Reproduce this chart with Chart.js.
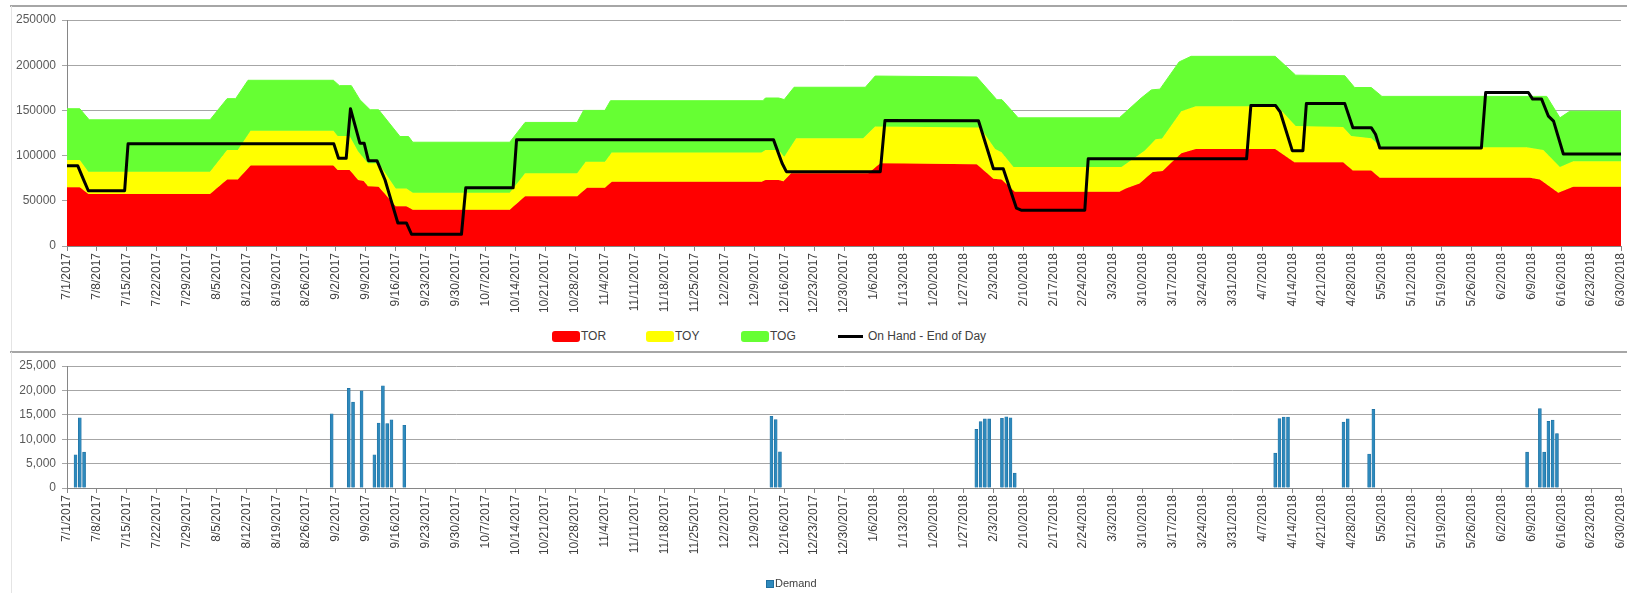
<!DOCTYPE html>
<html><head><meta charset="utf-8">
<script src="https://cdn.jsdelivr.net/npm/chart.js@4.4.1/dist/chart.umd.min.js"></script>
<style>
html,body{margin:0;padding:0;background:#fff;overflow:hidden;width:1627px;height:593px;font-family:"Liberation Sans",Arial,sans-serif;}
#wrap{position:relative;width:1627px;height:593px;overflow:hidden;}
.hline{position:absolute;left:10px;width:1617px;height:0;border-top:2px solid #a6a6a6;}
.vline{position:absolute;left:11px;width:0;border-left:1px solid #e4e4e4;}
#c1{position:absolute;left:0;top:0;}
#c2{position:absolute;left:0;top:345px;}
.lg{position:absolute;font-size:12px;color:#404040;line-height:14px;white-space:nowrap;}
.box{position:absolute;width:28px;height:11px;border-radius:3px;}
</style></head>
<body><div id="wrap">
<div class="hline" style="top:5px"></div>
<div class="vline" style="top:6px;height:346px"></div>
<div class="hline" style="top:351px"></div>
<div class="vline" style="top:352px;height:241px"></div>
<canvas id="c1" width="1627" height="320" style="width:1627px;height:320px"></canvas>
<canvas id="c2" width="1627" height="248" style="width:1627px;height:248px"></canvas>
<div id="legend1"></div>
<div id="legend2"></div>
</div>
<script>
// ---------- data ----------
const tickLabels = ["7/1/2017","7/8/2017","7/15/2017","7/22/2017","7/29/2017","8/5/2017","8/12/2017","8/19/2017","8/26/2017","9/2/2017","9/9/2017","9/16/2017","9/23/2017","9/30/2017","10/7/2017","10/14/2017","10/21/2017","10/28/2017","11/4/2017","11/11/2017","11/18/2017","11/25/2017","12/2/2017","12/9/2017","12/16/2017","12/23/2017","12/30/2017","1/6/2018","1/13/2018","1/20/2018","1/27/2018","2/3/2018","2/10/2018","2/17/2018","2/24/2018","3/3/2018","3/10/2018","3/17/2018","3/24/2018","3/31/2018","4/7/2018","4/14/2018","4/21/2018","4/28/2018","5/5/2018","5/12/2018","5/19/2018","5/26/2018","6/2/2018","6/9/2018","6/16/2018","6/23/2018","6/30/2018"];

// [day since 7/1/2017, value] breakpoints: top edge of each zone
const TOR = [[0,65000],[3,65000],[5,57500],[33.5,57500],[37.5,73500],[40,73500],[43,89000],[62.4,89000],[63.4,84000],[66.2,84000],[68.2,73000],[69.5,72000],[70.5,66000],[73,65500],[77,44000],[79.5,44000],[81,40000],[103.7,40000],[107.3,55000],[119.5,55000],[121.8,64400],[126,64400],[127.6,71100],[162.7,71100],[163.6,73000],[166.7,73000],[167.8,71500],[169.6,80400],[187.7,80400],[190.5,91500],[213.1,90500],[217,74500],[218.9,73500],[222,60000],[246.5,60000],[248,63600],[251.2,69000],[254.3,81800],[256.6,83000],[261,102500],[264.4,107300],[283,107300],[287.5,92700],[298.9,92700],[301.2,83600],[305.5,83600],[307.5,75600],[342.7,75600],[345,73500],[349.3,58900],[352.8,65500],[364,65500]];
const TOY = [[0,95200],[3,95200],[5,82200],[33.5,82200],[37.5,106300],[40,106300],[43,127400],[62.4,127400],[63.4,121800],[66.2,121800],[68.2,104400],[70.5,91500],[73,91500],[77,63700],[79.5,63700],[81,58900],[103.7,58900],[107.3,80400],[119.5,80400],[121.5,93300],[126,93300],[127.6,103300],[162.7,103300],[163.6,106300],[166.7,106300],[168,98700],[170.8,119300],[186.5,119300],[189.3,132200],[213.9,131000],[217.4,107300],[218.9,103600],[221.7,87300],[247,87300],[252.4,105500],[255,118200],[256.5,119000],[261,149100],[264.4,154500],[283.5,154500],[287.8,132700],[298.9,131600],[300.8,121800],[305.5,119300],[307.9,109100],[341.9,109100],[345.8,106200],[349.7,87300],[352.8,93800],[364,93800]];
const TOG = [[0,151850],[3,151850],[5.2,139600],[33.5,139600],[37.5,163000],[39.5,163000],[42.4,183300],[62.4,183300],[63.8,177400],[66.6,177400],[68.6,161900],[71,150700],[73,150700],[78,121100],[80,121100],[81,114800],[103.7,114800],[107.3,136700],[119.5,136700],[121,150000],[126,150000],[127.3,160700],[163,160700],[163.6,163700],[166.7,163700],[168,162000],[170.3,175600],[187,175600],[189.3,188000],[213.1,187000],[217.8,161800],[219,161800],[222.8,141800],[246.5,141800],[251.6,163600],[254,172700],[256,173500],[260.5,203600],[263.3,209800],[283,209800],[287.8,189000],[299.3,188400],[301.6,175300],[305.5,175300],[308,165500],[346.6,165500],[349.7,141800],[352,149100],[364,149100]];
const ONHAND = [[0,88900],[2.5,88900],[4,72000],[5,61100],[13.5,61100],[14.3,113000],[62.5,113000],[63.6,97000],[65.4,97000],[66.4,151850],[68.6,113700],[69.6,113700],[70.6,94400],[72.6,94400],[74.5,73000],[75.9,50700],[77.5,25500],[79.5,25500],[80.7,13000],[92.4,13000],[93.4,64400],[104.5,64400],[105.3,117400],[165.5,117400],[167.5,91500],[168.5,82200],[190.5,82200],[191.6,138900],[213.5,138500],[217,85500],[219.3,85500],[222.4,41800],[223.5,39600],[238.4,39600],[239.2,96400],[276.3,96400],[277.3,155300],[283.1,155300],[284.2,148000],[287,105500],[289.5,105500],[290.3,157500],[299.3,157500],[301.2,130900],[305.5,130900],[306.5,123600],[307.5,108400],[331.3,108400],[332.3,169800],[342.3,169800],[343.3,162500],[345.4,162500],[347,143600],[348.2,138200],[350.5,101800],[364,101800]];

const demandDays = [2,3,4,62,66,67,69,72,73,74,75,76,79,165,166,167,213,214,215,216,219,220,221,222,283,284,285,286,299,300,305,306,342,345,346,347,348,349];
const demandVals = [6800,14400,7350,15200,20400,17600,19900,6800,13300,20950,13200,13950,12850,14700,14000,7400,12000,13600,14150,14150,14300,14600,14400,3050,7150,14200,14550,14550,13500,14150,6950,16100,7350,16250,7350,13650,13900,11150];

const seriesNames = ["TOR","TOY","TOG","On Hand - End of Day"];
const seriesColors = ["#FF0000","#FFFF00","#66FF33","#000000"];

// ---------- helpers ----------
const pts = arr => arr.map(p => ({x: p[0], y: p[1]}));
const FONT = {family: '"Liberation Sans", Arial, sans-serif', size: 12};

function xScale(height) {
  return {
    type: 'linear', min: 0, max: 364, offset: false,
    ticks: {stepSize: 7, autoSkip: false, maxRotation: 90, minRotation: 90, padding: 2,
      color: '#404040', font: FONT,
      callback: v => tickLabels[Math.round(v / 7)] ?? ''},
    grid: {drawOnChartArea: false, drawTicks: true, tickLength: 5, color: '#868686', offset: false},
    border: {color: '#868686', width: 1},
    afterFit: s => { s.height = height; s.paddingLeft = 0; s.paddingRight = 0; }
  };
}
function yScale(max, step, fmt) {
  return {
    min: 0, max: max,
    ticks: {stepSize: step, padding: 6, color: '#595959', font: FONT, callback: fmt},
    grid: {color: '#a6a6a6', lineWidth: 1, drawTicks: true, tickLength: 5},
    border: {color: '#868686', width: 1},
    afterFit: s => { s.width = 67; }
  };
}

Chart.defaults.animation = false;

// ---------- top chart ----------
new Chart(document.getElementById('c1'), {
  type: 'line',
  data: {datasets: [
    {label: seriesNames[0], data: pts(TOR), fill: 'origin', backgroundColor: seriesColors[0], borderColor: seriesColors[0], borderWidth: 1, pointRadius: 0, order: 3},
    {label: seriesNames[1], data: pts(TOY), fill: '-1', backgroundColor: seriesColors[1], borderColor: seriesColors[1], borderWidth: 1, pointRadius: 0, order: 2},
    {label: seriesNames[2], data: pts(TOG), fill: '-1', backgroundColor: seriesColors[2], borderColor: seriesColors[2], borderWidth: 1, pointRadius: 0, order: 1},
    {label: seriesNames[3], data: pts(ONHAND), fill: false, borderColor: seriesColors[3], borderWidth: 3, pointRadius: 0, order: 0, borderJoinStyle: 'round'}
  ]},
  options: {
    responsive: false, maintainAspectRatio: false,
    layout: {padding: {top: 20, right: 6, left: 0, bottom: 0}},
    plugins: {legend: {display: false}, tooltip: {enabled: false}},
    scales: {x: xScale(74), y: yScale(250000, 50000, v => String(v))}
  }
});

// ---------- bottom chart ----------
new Chart(document.getElementById('c2'), {
  type: 'bar',
  data: {datasets: [{
    label: 'Demand',
    data: demandDays.map((d, i) => ({x: d, y: demandVals[i]})),
    backgroundColor: '#2E89BC', borderColor: '#1F6F9F', borderWidth: 0.6,
    barThickness: 3
  }]},
  options: {
    responsive: false, maintainAspectRatio: false,
    layout: {padding: {top: 21, right: 6, left: 0, bottom: 0}},
    plugins: {legend: {display: false}, tooltip: {enabled: false}},
    scales: {x: xScale(105), y: yScale(25000, 5000, v => v.toLocaleString('en-US'))}
  }
});

// ---------- legends (HTML text) ----------
const lg1 = document.getElementById('legend1');
const lgPos = [552, 646, 741];
[0,1,2].forEach(i => {
  const b = document.createElement('div'); b.className = 'box';
  b.style.left = lgPos[i] + 'px'; b.style.top = '331px'; b.style.background = seriesColors[i];
  lg1.appendChild(b);
  const t = document.createElement('div'); t.className = 'lg';
  t.style.left = (lgPos[i] + 29) + 'px'; t.style.top = '329px'; t.textContent = seriesNames[i];
  lg1.appendChild(t);
});
const ln = document.createElement('div');
ln.style.cssText = 'position:absolute;left:838px;top:335px;width:25px;height:3px;background:#000;';
lg1.appendChild(ln);
const t4 = document.createElement('div'); t4.className = 'lg';
t4.style.left = '868px'; t4.style.top = '329px'; t4.textContent = seriesNames[3];
lg1.appendChild(t4);

const lg2 = document.getElementById('legend2');
lg2.innerHTML = '<div style="position:absolute;left:766px;top:580px;width:6px;height:6px;background:#2E89BC;border:1px solid #1F6F9F"></div>' +
  '<div class="lg" style="left:775px;top:576px;font-size:11px">Demand</div>';
</script>
</body></html>
